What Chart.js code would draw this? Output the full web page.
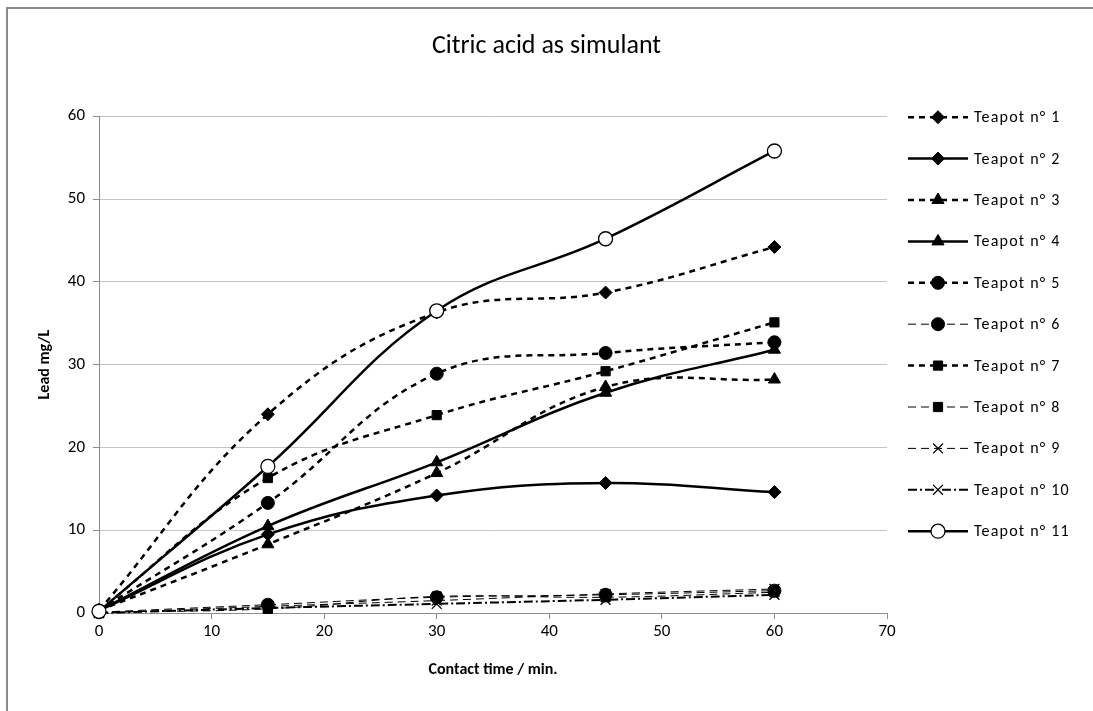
<!DOCTYPE html>
<html>
<head>
<meta charset="utf-8">
<title>Citric acid as simulant</title>
<script src="https://cdn.jsdelivr.net/npm/chart.js@4.4.1/dist/chart.umd.min.js"></script>
<style>
  body { margin:0; background:#fff; }
  #frame { position:absolute; left:6px; top:7px; width:1100px; height:720px; border:2px solid #8c8c8c; }
  #myChart { position:absolute; left:0; top:0; }
</style>
</head>
<body>
<div id="frame"></div>
<canvas id="myChart" width="1093" height="711"></canvas>
<script>
// contact time (min.)
var times = [0, 15, 30, 45, 60]
var xTicks = [0, 10, 20, 30, 40, 50, 60, 70]
var yTicks = [0, 10, 20, 30, 40, 50, 60]

// lead mg/L per teapot
var teapot1 = [0.3, 24.0, 36.3, 38.7, 44.2]
var teapot2 = [0.3, 9.5, 14.2, 15.7, 14.6]
var teapot3 = [0.3, 8.3, 16.9, 27.3, 28.2]
var teapot4 = [0.3, 10.5, 18.2, 26.6, 31.8]
var teapot5 = [0.3, 13.3, 28.9, 31.4, 32.7]
var teapot6 = [0.1, 1.0, 1.9, 2.2, 2.7]
var teapot7 = [0.3, 16.3, 23.9, 29.2, 35.1]
var teapot8 = [0.1, 0.5, 2.0, 1.9, 2.5]
var teapot9 = [0.0, 0.8, 1.5, 2.3, 2.9]
var teapot10 = [0.0, 0.6, 1.1, 1.6, 2.2]
var teapot11 = [0.2, 17.7, 36.5, 45.2, 55.8]

var labels = ["Teapot n° 1","Teapot n° 2","Teapot n° 3","Teapot n° 4","Teapot n° 5","Teapot n° 6",
              "Teapot n° 7","Teapot n° 8","Teapot n° 9","Teapot n° 10","Teapot n° 11"]

var FONT = "Carlito, Lato, 'Liberation Sans', sans-serif"

function pts(vals){
    var out = []
    for (var i = 0; i < times.length; i++) out.push({x: times[i], y: vals[i]})
    return out
}

function series(idx, vals, dash, width, style, radius, fill, pbw){
    return {
        label: labels[idx],
        data: pts(vals),
        order: 11 - idx,   // later series drawn on top, like the spreadsheet
        clip: false,
        borderColor: 'black',
        backgroundColor: fill,
        borderWidth: width,
        borderDash: dash,
        pointStyle: style,
        pointRadius: radius,
        pointBackgroundColor: fill,
        pointBorderColor: 'black',
        pointBorderWidth: pbw,
        tension: 0.4,
        fill: false
    }
}

var DASH = [6, 5]
var LONG = [8, 5]
var DASHDOT = [9, 3, 2, 3]

var datasets = [
    series(0, teapot1, DASH, 2.5, 'rectRot', 6.5, 'black', 1),
    series(1, teapot2, [], 2.5, 'rectRot', 6.5, 'black', 1),
    series(2, teapot3, DASH, 2.5, 'triangle', 7, 'black', 1),
    series(3, teapot4, [], 2.5, 'triangle', 7, 'black', 1),
    series(4, teapot5, DASH, 2.5, 'circle', 6.5, 'black', 1),
    series(5, teapot6, LONG, 1, 'circle', 6.5, 'black', 1),
    series(6, teapot7, DASH, 2.5, 'rect', 6.5, 'black', 1),
    series(7, teapot8, LONG, 1, 'rect', 6.5, 'black', 1),
    series(8, teapot9, LONG, 1, 'crossRot', 7, 'black', 1.3),
    series(9, teapot10, DASHDOT, 2, 'crossRot', 7, 'black', 1.3),
    series(10, teapot11, [], 2.5, 'circle', 7, 'white', 1.3)
]

// legend on the right: line + marker + text, like the spreadsheet one
var sideLegend = {
    id: 'sideLegend',
    afterDraw: function(chart){
        var ctx = chart.ctx
        var area = chart.chartArea
        var x0 = area.right + 21
        var x1 = area.right + 81
        var xm = (x0 + x1) / 2
        chart.data.datasets.forEach(function(ds, i){
            var y = area.top + 1 + i * 41.4
            ctx.save()
            ctx.strokeStyle = 'black'
            ctx.lineWidth = ds.borderWidth
            ctx.setLineDash(ds.borderDash)
            ctx.beginPath()
            ctx.moveTo(x0, y)
            ctx.lineTo(x1, y)
            ctx.stroke()
            ctx.setLineDash([])
            ctx.fillStyle = ds.pointBackgroundColor
            ctx.strokeStyle = 'black'
            ctx.lineWidth = ds.pointBorderWidth
            Chart.helpers.drawPoint(ctx, {pointStyle: ds.pointStyle, radius: ds.pointRadius, borderWidth: ds.pointBorderWidth, rotation: 0}, xm, y)
            ctx.fillStyle = 'black'
            ctx.font = "16px " + FONT
            ctx.letterSpacing = '1.2px'
            ctx.textBaseline = 'middle'
            ctx.textAlign = 'left'
            ctx.fillText(ds.label, x1 + 6, y + 1)
            ctx.restore()
        })
    }
}

var myChart = document.getElementById("myChart").getContext('2d')
var chart = new Chart(myChart, {
    type: 'line',
    data: { datasets: datasets },
    plugins: [sideLegend],
    options: {
        responsive: false,
        animation: false,
        layout: { padding: 0 },
        plugins: {
            legend: { display: false },
            tooltip: { enabled: false },
            title: {
                display: true,
                text: 'Citric acid as simulant',
                color: 'black',
                font: { family: FONT, size: 26, weight: 'normal' },
                padding: { top: 31, bottom: 54 }
            }
        },
        scales: {
            x: {
                type: 'linear',
                min: 0,
                max: 70,
                afterBuildTicks: function(s){ s.ticks = xTicks.map(function(v){ return {value: v} }) },
                afterFit: function(s){ s.height = 98 },
                ticks: { color: 'black', font: { family: FONT, size: 17 }, padding: 3, maxRotation: 0 },
                grid: { drawOnChartArea: false, drawTicks: true, tickLength: 6, color: '#8c8c8c' },
                border: { color: '#8c8c8c', width: 1 },
                title: {
                    display: true,
                    text: 'Contact time / min.',
                    color: 'black',
                    font: { family: FONT, size: 16, weight: 'bold' },
                    padding: { top: 0, bottom: 31 }
                }
            },
            y: {
                min: 0,
                max: 60,
                afterBuildTicks: function(s){ s.ticks = yTicks.map(function(v){ return {value: v} }) },
                afterFit: function(s){ s.width = 99 },
                ticks: { color: 'black', font: { family: FONT, size: 17 }, padding: 8 },
                grid: { color: '#c4c4c4', drawTicks: true, tickLength: 6, tickColor: '#8c8c8c' },
                border: { color: '#8c8c8c', width: 1 },
                title: {
                    display: true,
                    text: 'Lead mg/L',
                    color: 'black',
                    font: { family: FONT, size: 16, weight: 'bold' },
                    padding: { top: 35, bottom: 0 }
                }
            },
            // empty axis that only keeps room for the legend on the right
            legendRoom: {
                type: 'linear',
                position: 'right',
                afterFit: function(s){ s.width = 206 },
                ticks: { display: false },
                grid: { display: false },
                border: { display: false }
            }
        }
    }
})
</script>
</body>
</html>
